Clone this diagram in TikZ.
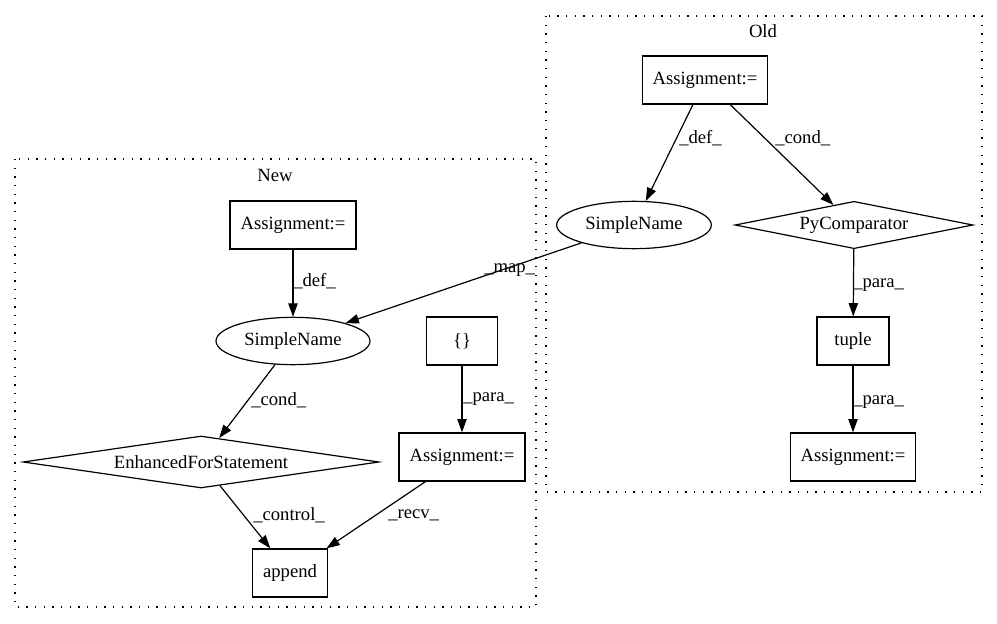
\documentclass[tikz,border=0pt]{standalone}
\usepackage{fontspec}
\setmainfont{Liberation Serif}
\usetikzlibrary{shapes.geometric,arrows.meta}
\begin{document}
\begin{tikzpicture}[x=0.75pt,y=-0.75pt,
  every node/.style={font=\fontsize{14}{16}\selectfont, inner sep=0pt},
  rbox/.style={draw, line width=0.9pt, rectangle, minimum height=36pt},
  ell/.style={draw, line width=0.9pt, ellipse, minimum width=115.5pt, minimum height=35.5pt},
  dia/.style={draw, line width=0.9pt, diamond, aspect=6},
  conn/.style={draw, line width=0.9pt, -{Triangle[length=10pt,width=7pt]}},
  lbl/.style={anchor=west},
  cluster/.style={draw, line width=1pt, dash pattern=on 1pt off 5.5pt}
]
\useasboundingbox (0,0) rectangle (997,624);

% clusters
\draw[cluster] (546,16) rectangle (982,492);
\node (oldlbl) at (763,31) {Old};
\draw[cluster] (15,159) rectangle (536,607);
\node (newlbl) at (275,175) {New};

% Old nodes
\node[rbox, minimum width=93.75pt] (oa1) at (705,80) {Assignment:=};
\node[ell, minimum width=116pt] (osn) at (634,225) {SimpleName};
\node[dia, minimum width=178.5pt, minimum height=35.5pt] (pyc) at (854,225) {PyComparator};
\node[rbox, minimum width=54pt] (tup) at (853,341) {tuple};
\node[rbox, minimum width=93.75pt] (oa2) at (853,457) {Assignment:=};

% New nodes
\node[rbox, minimum width=94.5pt] (na1) at (293,225) {Assignment:=};
\node[ell] (nsn) at (293,341) {SimpleName};
\node[rbox, minimum width=53pt] (brc) at (462,341) {\{\}};
\node[rbox, minimum width=94.5pt] (na2) at (462,457) {Assignment:=};
\node[dia, minimum width=267pt, minimum height=39pt] (efs) at (201,462) {EnhancedForStatement};
\node[rbox, minimum width=56pt] (app) at (290,573) {append};

% edges
\draw[conn] (oa1) -- (osn);
\node[lbl] (l1) at (679,138) {\_def\_};
\draw[conn] (oa1) -- (pyc);
\node[lbl] (l2) at (775,138) {\_cond\_};
\draw[conn] (pyc) -- (tup);
\node[lbl] (l3) at (853,285) {\_para\_};
\draw[conn] (tup) -- (oa2);
\node[lbl] (l4) at (853,402) {\_para\_};
\draw[conn] (osn) -- (nsn);
\node[lbl] (l5) at (484,270) {\_map\_};
\draw[conn] (na1) -- (nsn);
\node[lbl] (l6) at (293,281) {\_def\_};
\draw[conn] (nsn) -- (efs);
\node[lbl] (l7) at (251,400) {\_cond\_};
\draw[conn] (brc) -- (na2);
\node[lbl] (l8) at (463,399) {\_para\_};
\draw[conn] (efs) -- (app);
\node[lbl] (l9) at (253,515) {\_control\_};
\draw[conn] (na2) -- (app);
\node[lbl] (l10) at (388,515) {\_recv\_};
\end{tikzpicture}
\end{document}
